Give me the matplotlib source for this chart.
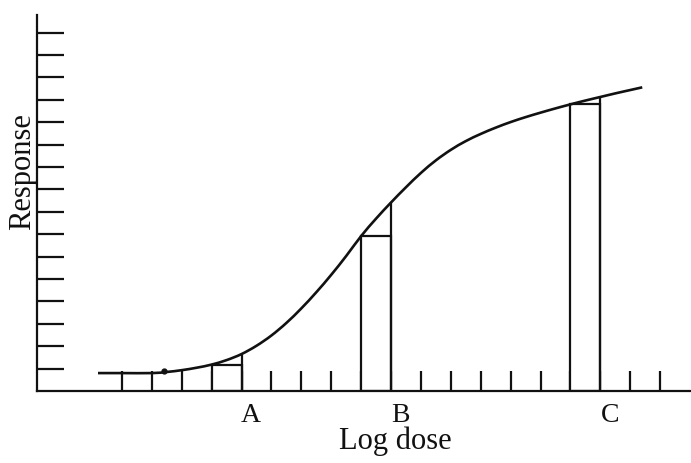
import numpy as np
import matplotlib
matplotlib.use("Agg")
import matplotlib.pyplot as plt
from matplotlib.path import Path
from matplotlib.patches import PathPatch
from matplotlib.transforms import blended_transform_factory

# Log-dose / response curve (x in log-dose tick units, y in response tick units)
curve_x = [0.2, 1.0, 2.0, 2.5, 3.0, 3.5, 4.0, 4.5, 5.0, 5.5, 6.0, 6.5, 7.0, 7.5,
           8.0, 8.5, 9.0, 9.5, 10.0, 10.5, 11.0, 11.5, 12.0, 12.5, 13.0, 13.5,
           14.0, 14.5, 15.0, 15.5, 16.0, 16.5, 17.0, 17.5, 18.0, 18.4]
curve_y = [0.80, 0.80, 0.80, 0.85, 0.93, 1.04, 1.18, 1.38, 1.65, 2.02, 2.48, 3.04,
           3.69, 4.41, 5.19, 6.03, 6.92, 7.70, 8.42, 9.10, 9.74, 10.30, 10.77, 11.16,
           11.48, 11.76, 12.01, 12.23, 12.43, 12.62, 12.80, 12.97, 13.13, 13.29,
           13.44, 13.56]

# Dose intervals marked under the curve
interval_labels = ["A", "B", "C"]
interval_start = [4.0, 9.0, 16.0]
interval_end = [5.0, 10.0, 17.0]

# Axis tick positions
x_ticks = list(range(1, 20))
y_ticks = list(range(1, 17))

ink = "#111111"
serif = ["Liberation Serif", "DejaVu Serif"]


def smooth_path(xs, ys):
    """Cubic Bezier path through the points (Catmull-Rom tangents)."""
    pts = np.column_stack([xs, ys])
    n = len(pts)
    verts = [pts[0]]
    codes = [Path.MOVETO]
    for i in range(n - 1):
        p0 = pts[i - 1] if i > 0 else pts[i]
        p1, p2 = pts[i], pts[i + 1]
        p3 = pts[i + 2] if i + 2 < n else pts[i + 1]
        c1 = p1 + (p2 - p0) / 6.0
        c2 = p2 - (p3 - p1) / 6.0
        verts += [c1, c2, p2]
        codes += [Path.CURVE4] * 3
    return Path(verts, codes)


fig = plt.figure(figsize=(6.91, 4.63), dpi=100)
ax = fig.add_axes([37 / 691, (463 - 391) / 463, 1 - 37 / 691, (391 - 15) / 463])
ax.set_xlim(-1.84, 20.03)
ax.set_ylim(0, 16.79)

cx = np.array(curve_x)
cy = np.array(curve_y)
ax.add_patch(PathPatch(smooth_path(cx, cy), facecolor="none", edgecolor=ink,
                       lw=1.9, capstyle="butt", zorder=3))

# Bars: height taken at the start of each interval, right edge rises to the curve
for lab, x0, x1 in zip(interval_labels, interval_start, interval_end):
    h0 = cy[cx == x0][0]
    h1 = cy[cx == x1][0]
    ax.bar(x0, h0, width=x1 - x0, align="edge", facecolor="white",
           edgecolor=ink, lw=1.6, zorder=2)
    ax.vlines(x1, 0, h1, color=ink, lw=1.6, zorder=2)

# Small ink mark on the foot of the curve
ax.plot([2.4], [0.9], marker="o", ms=3.5, color=ink, zorder=4)

for side in ("top", "right"):
    ax.spines[side].set_visible(False)
for side in ("left", "bottom"):
    ax.spines[side].set_linewidth(1.6)
    ax.spines[side].set_color(ink)

ax.set_xticks(x_ticks)
ax.set_yticks(y_ticks)
ax.set_xticklabels([])
ax.set_yticklabels([])
ax.tick_params(axis="x", direction="in", length=14.5, width=1.6, color=ink)
ax.tick_params(axis="y", direction="in", length=19.5, width=1.6, color=ink)

trans = blended_transform_factory(ax.transData, fig.transFigure)
for lab, x1 in zip(interval_labels, interval_end):
    ax.text(x1 + 0.32, (463 - 422) / 463, lab, transform=trans, ha="center",
            va="baseline", fontsize=20, family=serif, color=ink)

fig.text(395 / 691, (463 - 449) / 463, "Log dose", ha="center", va="baseline",
         fontsize=22, family=serif, color=ink)
fig.text(23 / 691, (463 - 172) / 463, "Response", ha="center", va="center",
         rotation=90, fontsize=22, family=serif, color=ink)

fig.savefig("out.png", dpi=100, facecolor="white")
